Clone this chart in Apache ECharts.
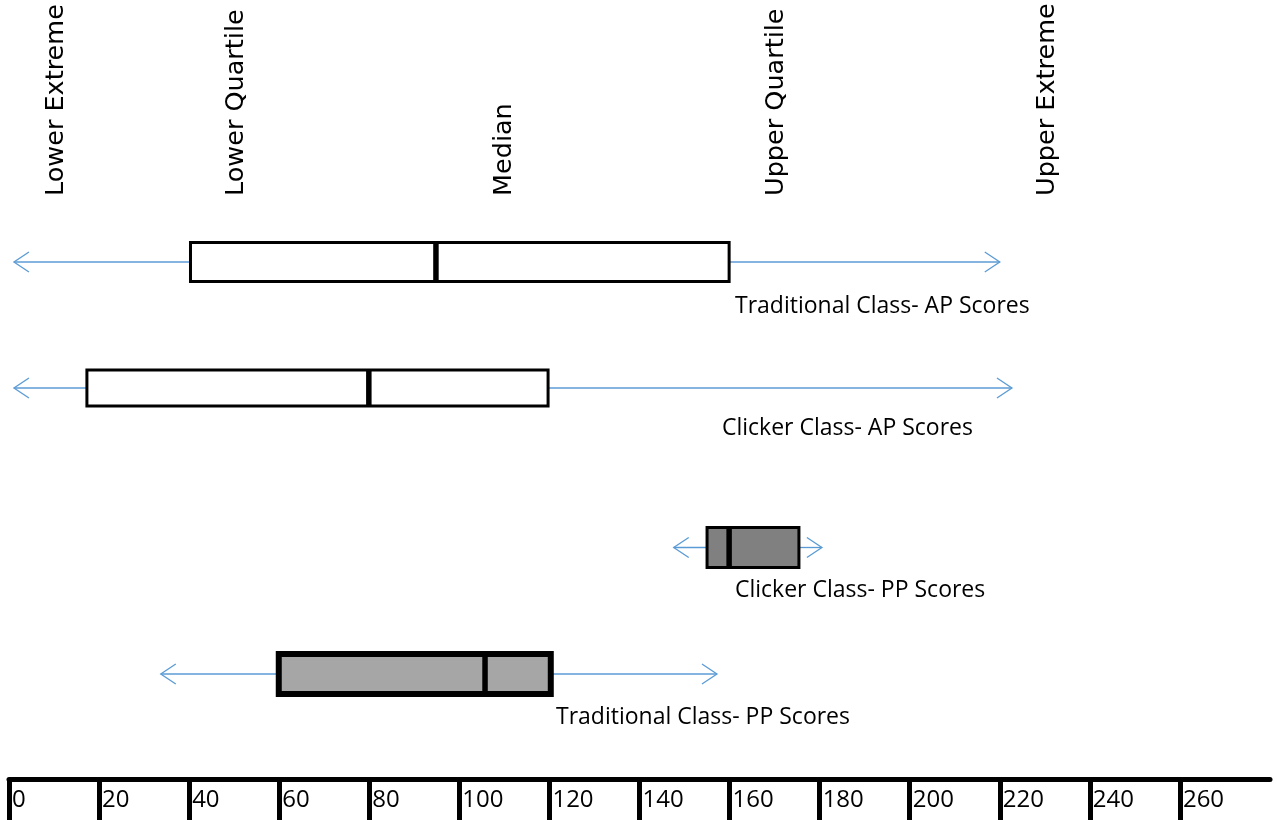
<!DOCTYPE html>
<html>
<head>
<meta charset="utf-8">
<script src="https://cdn.jsdelivr.net/npm/echarts@6/dist/echarts.min.js"></script>
<style>
html,body{margin:0;padding:0;background:#fff;}
#chart{width:1277px;height:820px;}
</style>
</head>
<body>
<div id="chart"></div>
<script>
// ---- data ----
const groups = ['Traditional Class- AP Scores', 'Clicker Class- AP Scores', 'Clicker Class- PP Scores', 'Traditional Class- PP Scores'];
const lowerExtreme = [1.1, 1.1, 147.6, 33.7];
const lowerQuartile = [40.3, 17.3, 155.0, 59.9];
const medianValue = [94.8, 79.9, 159.9, 105.7];
const upperQuartile = [159.9, 119.7, 175.4, 120.3];
const upperExtreme = [220.0, 222.7, 180.5, 157.2];
const headLabels = ['Lower Extreme', 'Lower Quartile', 'Median', 'Upper Quartile', 'Upper Extreme'];
const headValues = [10.5, 50.5, 110, 170.3, 230.5];
const tickValues = [0, 20, 40, 60, 80, 100, 120, 140, 160, 180, 200, 220, 240, 260];

// ---- layout / style ----
const ROW_Y = [262, 388, 547.5, 674];
const BOX_HALF = [19.5, 18, 20, 20];
const BOX_LW = [3, 3, 3, 6];
const BOX_FILL = ['#ffffff', '#ffffff', '#808080', '#a6a6a6'];
const LABEL_X = [735, 722, 735, 556];
const LABEL_Y = [306, 428, 590, 717];
const WHISKER = '#5b9bd5';
const LABEL_FONT = '23px "Open Sans", sans-serif';
const HEAD_FONT = '25.5px "DejaVu Sans", sans-serif';

const chart = echarts.init(document.getElementById('chart'), null, {renderer: 'canvas'});

function renderBox(params, api) {
  const i = params.dataIndex;
  const y = ROW_Y[i];
  const xLE = api.coord([lowerExtreme[i], 0])[0];
  const xLQ = api.coord([lowerQuartile[i], 0])[0];
  const xM = api.coord([medianValue[i], 0])[0];
  const xUQ = api.coord([upperQuartile[i], 0])[0];
  const xUE = api.coord([upperExtreme[i], 0])[0];
  const h = BOX_HALF[i];
  const lw = BOX_LW[i];
  const ax = 15, ay = 10;
  const wl = {stroke: WHISKER, lineWidth: 1.3, fill: null};
  return {
    type: 'group',
    children: [
      {type: 'polyline', shape: {points: [[xLQ, y], [xLE, y]]}, style: wl},
      {type: 'polyline', shape: {points: [[xLE + ax, y - ay], [xLE, y], [xLE + ax, y + ay]]}, style: wl},
      {type: 'polyline', shape: {points: [[xUQ, y], [xUE, y]]}, style: wl},
      {type: 'polyline', shape: {points: [[xUE - ax, y - ay], [xUE, y], [xUE - ax, y + ay]]}, style: wl},
      {type: 'rect', shape: {x: xLQ, y: y - h, width: xUQ - xLQ, height: 2 * h},
        style: {fill: BOX_FILL[i], stroke: '#000', lineWidth: lw}},
      {type: 'line', shape: {x1: xM, y1: y - h, x2: xM, y2: y + h},
        style: {stroke: '#000', lineWidth: 5.5}},
      {type: 'text', x: LABEL_X[i], y: LABEL_Y[i],
        style: {text: groups[i], font: LABEL_FONT, fill: '#000', align: 'left', verticalAlign: 'middle'}}
    ]
  };
}

function renderHead(params, api) {
  const i = params.dataIndex;
  const x = api.coord([headValues[i], 0])[0];
  return {
    type: 'text', x: x, y: 196, rotation: Math.PI / 2,
    style: {text: headLabels[i], font: HEAD_FONT, fill: '#000', align: 'left', verticalAlign: 'middle'}
  };
}

chart.setOption({
  animation: false,
  backgroundColor: '#ffffff',
  grid: {left: 9, right: 7, top: 0, bottom: 40.5, containLabel: false},
  xAxis: {
    type: 'value', min: 0, max: 280, interval: 20,
    splitLine: {show: false},
    axisLine: {show: true, onZero: false, lineStyle: {color: '#000', width: 5}},
    axisTick: {show: true, inside: false, length: 42, customValues: tickValues, lineStyle: {color: '#000', width: 5}},
    axisLabel: {
      show: true, customValues: tickValues, align: 'left', verticalAlign: 'middle', margin: 21,
      padding: [0, 0, 0, 3], color: '#000', fontSize: 24, fontFamily: '"Open Sans", sans-serif',
      formatter: v => String(v)
    }
  },
  yAxis: {type: 'value', min: 0, max: 1, show: false},
  series: [
    {type: 'custom', renderItem: renderBox, clip: false, data: groups.map((g, i) => i)},
    {type: 'custom', renderItem: renderHead, clip: false, data: headLabels.map((g, i) => i)}
  ]
});
</script>
</body>
</html>
